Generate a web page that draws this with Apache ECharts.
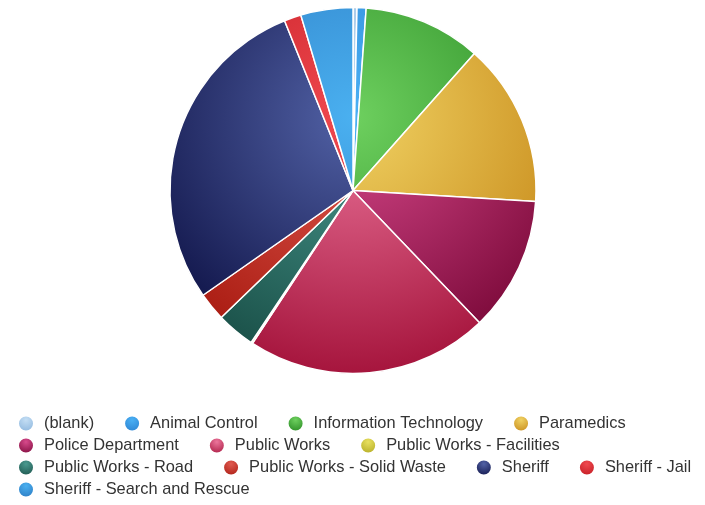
<!DOCTYPE html>
<html>
<head>
<meta charset="utf-8">
<script src="https://cdn.jsdelivr.net/npm/echarts@6/dist/echarts.min.js"></script>
<style>
  html, body { margin: 0; padding: 0; background: #fff; }
  #chart { width: 705px; height: 505px; }
</style>
</head>
<body>
<div id="chart"></div>
<script>
// Departments and their share of the total
const categories = [
  '(blank)', 'Animal Control', 'Information Technology', 'Paramedics',
  'Police Department', 'Public Works', 'Public Works - Facilities',
  'Public Works - Road', 'Public Works - Solid Waste', 'Sheriff',
  'Sheriff - Jail', 'Sheriff - Search and Rescue'
];
const values = [0.35, 0.8, 10.4, 14.4, 11.9, 21.4, 0.15, 3.4, 2.5, 28.6, 1.5, 4.6];

// Light / dark gradient stops for each department
const lightColors = ['#c4def4', '#4ab0f4', '#6ed05f', '#f0d263', '#d84a8c', '#ec769c',
                     '#e8e060', '#4a9a90', '#e05a50', '#5262a6', '#f04a50', '#4ab0f0'];
const darkColors  = ['#8ab4dc', '#2a80d0', '#258620', '#c68818', '#7a0838', '#a6153d',
                     '#b0a820', '#1a5048', '#a81a10', '#0e1246', '#c01820', '#2a78c0'];

const CX = 353, CY = 190.5, R = 183;

function sliceGradient(i) {
  // shading anchored above the pie centre, shared by all slices
  return {
    type: 'radial', global: true,
    x: CX, y: CY - 0.2 * 2 * R, r: 0.7 * 2 * R,
    colorStops: [{ offset: 0, color: lightColors[i] }, { offset: 1, color: darkColors[i] }]
  };
}
function iconGradient(i) {
  // small sphere look for the legend markers
  return {
    type: 'radial', x: 0.5, y: 0.3, r: 0.75,
    colorStops: [{ offset: 0, color: lightColors[i] }, { offset: 1, color: darkColors[i] }]
  };
}

const chart = echarts.init(document.getElementById('chart'), null, { renderer: 'canvas' });
chart.setOption({
  animation: false,
  legend: {
    left: 17, top: 414.5, width: 710,
    padding: 0,
    orient: 'horizontal',
    icon: 'circle',
    itemWidth: 16, itemHeight: 16,
    itemGap: 4,
    textStyle: {
      fontFamily: 'Liberation Sans, Arial, sans-serif',
      fontSize: 16.4, color: '#333333',
      lineHeight: 16.7,
      padding: [0, 25, 0, 5]
    },
    data: categories.map((name, i) => ({ name, itemStyle: { color: iconGradient(i) } }))
  },
  series: [{
    type: 'pie',
    center: [CX, CY],
    radius: R,
    startAngle: 90,
    clockwise: true,
    avoidLabelOverlap: false,
    label: { show: false },
    labelLine: { show: false },
    itemStyle: { borderColor: '#ffffff', borderWidth: 1.5 },
    emphasis: { disabled: true },
    data: categories.map((name, i) => ({
      name, value: values[i],
      itemStyle: { color: sliceGradient(i) }
    }))
  }]
});
</script>
</body>
</html>
